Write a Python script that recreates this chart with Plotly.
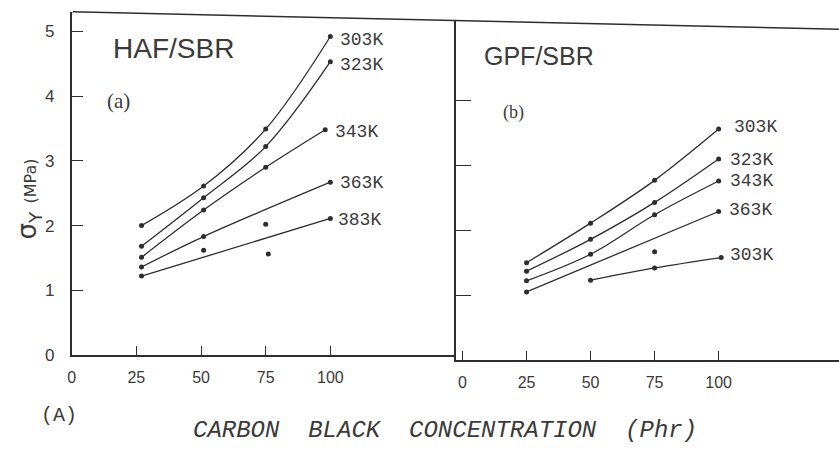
import plotly.graph_objects as go

W, H = 839, 460

# ---- HAF/SBR (panel a): yield stress (MPa) vs carbon black loading (phr) ----
haf_303_x = [27, 51, 75, 100]
haf_303_y = [2.00, 2.61, 3.49, 4.92]
haf_323_x = [27, 51, 75, 100]
haf_323_y = [1.68, 2.43, 3.22, 4.53]
haf_343_x = [27, 51, 75, 98]
haf_343_y = [1.51, 2.24, 2.90, 3.48]
haf_363_x = [27, 51, 100]
haf_363_y = [1.36, 1.83, 2.67]
haf_363_extra_x = [75]
haf_363_extra_y = [2.02]
haf_383_x = [27, 100]
haf_383_y = [1.22, 2.11]
haf_383_extra_x = [51, 76]
haf_383_extra_y = [1.62, 1.56]

# ---- GPF/SBR (panel b) ----
gpf_303_x = [25, 50, 75, 100]
gpf_303_y = [1.50, 2.11, 2.77, 3.56]
gpf_323_x = [25, 50, 75, 100]
gpf_323_y = [1.37, 1.86, 2.43, 3.10]
gpf_343_x = [25, 50, 75, 100]
gpf_343_y = [1.22, 1.63, 2.24, 2.76]
gpf_363_x = [25, 100]
gpf_363_y = [1.05, 2.29]
gpf_363_extra_x = [75]
gpf_363_extra_y = [1.67]
gpf_low_x = [50, 75, 101]
gpf_low_y = [1.23, 1.42, 1.58]

x_ticks = [0, 25, 50, 75, 100]
y_ticks = [0, 1, 2, 3, 4, 5]

INK = "#2e2e2e"
TXT = "#3a3a3a"
LABEL_FONT = dict(family="Liberation Mono, DejaVu Sans Mono, monospace", size=18, color=TXT)

fig = go.Figure()


def curve(xs, ys, xa, ya):
    fig.add_trace(go.Scatter(
        x=xs, y=ys, xaxis=xa, yaxis=ya, mode="lines+markers",
        line=dict(color=INK, width=1.3, shape="spline", smoothing=1.0),
        marker=dict(color=INK, size=5), showlegend=False, hoverinfo="x+y"))


def dots(xs, ys, xa, ya):
    fig.add_trace(go.Scatter(
        x=xs, y=ys, xaxis=xa, yaxis=ya, mode="markers",
        marker=dict(color=INK, size=5), showlegend=False, hoverinfo="x+y"))


def end_label(text, xs, ys, xa, ya, dx, dy):
    fig.add_annotation(
        x=xs[-1], y=ys[-1], xref=xa, yref=ya, text=text, showarrow=False,
        xanchor="left", yanchor="middle", xshift=dx, yshift=dy, font=LABEL_FONT)


# panel a
curve(haf_303_x, haf_303_y, "x", "y")
curve(haf_323_x, haf_323_y, "x", "y")
curve(haf_343_x, haf_343_y, "x", "y")
curve(haf_363_x, haf_363_y, "x", "y")
dots(haf_363_extra_x, haf_363_extra_y, "x", "y")
curve(haf_383_x, haf_383_y, "x", "y")
dots(haf_383_extra_x, haf_383_extra_y, "x", "y")
end_label("303K", haf_303_x, haf_303_y, "x", "y", 8, -4)
end_label("323K", haf_323_x, haf_323_y, "x", "y", 8, -3)
end_label("343K", haf_343_x, haf_343_y, "x", "y", 8, -2)
end_label("363K", haf_363_x, haf_363_y, "x", "y", 8, -1)
end_label("383K", haf_383_x, haf_383_y, "x", "y", 6, -2)

# panel b
curve(gpf_303_x, gpf_303_y, "x2", "y2")
curve(gpf_323_x, gpf_323_y, "x2", "y2")
curve(gpf_343_x, gpf_343_y, "x2", "y2")
curve(gpf_363_x, gpf_363_y, "x2", "y2")
dots(gpf_363_extra_x, gpf_363_extra_y, "x2", "y2")
curve(gpf_low_x, gpf_low_y, "x2", "y2")
end_label("303K", gpf_303_x, gpf_303_y, "x2", "y2", 13, 2)
end_label("323K", gpf_323_x, gpf_323_y, "x2", "y2", 9, -1)
end_label("343K", gpf_343_x, gpf_343_y, "x2", "y2", 9, 0)
end_label("363K", gpf_363_x, gpf_363_y, "x2", "y2", 8, 1)
end_label("303K", gpf_low_x, gpf_low_y, "x2", "y2", 7, 3)

tick_font = dict(family="Liberation Sans, Arial, sans-serif", size=16, color=TXT)
axis_common = dict(showgrid=False, zeroline=False, showline=True, linecolor=INK,
                   linewidth=1.5, ticks="inside", tickcolor=INK, tickwidth=1.3,
                   fixedrange=True)


def px_x(p):
    return p / W


def px_y(p):
    return 1 - p / H


fig.update_layout(
    width=W, height=H,
    margin=dict(l=0, r=0, t=0, b=0),
    paper_bgcolor="white", plot_bgcolor="rgba(0,0,0,0)",
    xaxis=dict(domain=[px_x(68), px_x(454)], range=[0, 148.5], anchor="y",
               tickvals=x_ticks, ticklen=9, tickfont=tick_font,
               ticklabelstandoff=7, **axis_common),
    yaxis=dict(domain=[px_y(363), px_y(12)], range=[0, 5.302], anchor="x",
               tickvals=y_ticks, ticklen=12,
               tickfont=dict(family="Liberation Sans, Arial, sans-serif", size=17, color=TXT),
               ticklabelstandoff=12, **axis_common),
    xaxis2=dict(domain=[px_x(454), 1.0], range=[-2.6, 147.0], anchor="y2",
                tickvals=x_ticks, ticklen=9, tickfont=tick_font,
                ticklabelstandoff=7, **axis_common),
    yaxis2=dict(domain=[px_y(368), px_y(21)], range=[0, 5.234], anchor="x2",
                tickvals=[1, 2, 3, 4], ticklen=15, showticklabels=False,
                **axis_common),
)

# slanted top border across both panels
fig.add_shape(type="line", xref="paper", yref="paper",
              x0=px_x(69), y0=px_y(12), x1=1.0, y1=px_y(30),
              line=dict(color=INK, width=1.5))

# panel titles and tags
fig.add_annotation(xref="paper", yref="paper", x=px_x(108), y=px_y(50),
                   text="HAF/SBR", showarrow=False, xanchor="left", yanchor="middle",
                   font=dict(family="Liberation Sans, Arial, sans-serif", size=28, color=TXT))
fig.add_annotation(xref="paper", yref="paper", x=px_x(101), y=px_y(103),
                   text="(a)", showarrow=False, xanchor="left", yanchor="middle",
                   font=dict(family="Liberation Serif, Times New Roman, serif", size=21, color=TXT))
fig.add_annotation(xref="paper", yref="paper", x=px_x(480), y=px_y(57),
                   text="GPF/SBR", showarrow=False, xanchor="left", yanchor="middle",
                   font=dict(family="Liberation Sans, Arial, sans-serif", size=25, color=TXT))
fig.add_annotation(xref="paper", yref="paper", x=px_x(499), y=px_y(115),
                   text="(b)", showarrow=False, xanchor="left", yanchor="middle",
                   font=dict(family="Liberation Serif, Times New Roman, serif", size=18, color=TXT))

# y-axis title
fig.add_annotation(xref="paper", yref="paper", x=px_x(25), y=px_y(203),
                   text="σ<sub>Y</sub> <span style='font-size:16px'>(MPa)</span>",
                   textangle=-90, showarrow=False, xanchor="center", yanchor="middle",
                   font=dict(family="DejaVu Sans, sans-serif", size=26, color=TXT))

# figure tag and x-axis title
fig.add_annotation(xref="paper", yref="paper", x=px_x(55), y=px_y(425),
                   text="(A)", showarrow=False, xanchor="center", yanchor="middle",
                   font=dict(family="Liberation Mono, monospace", size=20, color=TXT))
nb = "\u00a0"
fig.add_annotation(xref="paper", yref="paper", x=px_x(443), y=px_y(440),
                   text="<i>" + f"CARBON{nb}{nb}BLACK{nb}{nb}CONCENTRATION{nb}{nb}(Phr)" + "</i>",
                   showarrow=False, xanchor="center", yanchor="middle",
                   font=dict(family="Liberation Mono, DejaVu Sans Mono, monospace", size=24, color=TXT))

fig.write_html("out.html")
